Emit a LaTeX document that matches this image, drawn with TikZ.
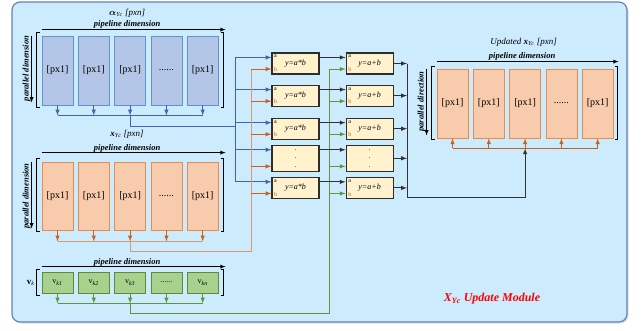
\documentclass[tikz,border=0pt]{standalone}
\usepackage{amsmath}
\usepackage{fontspec}
\setmainfont{Liberation Serif}
\usetikzlibrary{calc,positioning,shadows}

\definecolor{cBg}{RGB}{204,236,254}
\definecolor{cFrame}{RGB}{100,130,190}
\definecolor{cAlphaFill}{RGB}{180,198,231}
\definecolor{cAlphaLine}{RGB}{100,145,210}
\definecolor{cAlphaWire}{RGB}{60,100,185}
\definecolor{cXFill}{RGB}{248,203,173}
\definecolor{cXLine}{RGB}{230,140,80}
\definecolor{cXWire}{RGB}{215,155,115}
\definecolor{cXTip}{RGB}{205,95,30}
\definecolor{cVFill}{RGB}{169,209,142}
\definecolor{cVLine}{RGB}{90,140,60}
\definecolor{cVWire}{RGB}{95,150,60}
\definecolor{cBoxFill}{RGB}{255,242,204}
\definecolor{cBoxLine}{RGB}{45,45,45}
\definecolor{cDark}{RGB}{50,50,50}
\definecolor{cPortB}{RGB}{170,100,50}
\definecolor{cModule}{RGB}{255,0,0}

\begin{document}
\begin{tikzpicture}[>=latex, x=1pt, y=-1pt]

  \tikzstyle{frame} = [draw=cFrame, line width=1.2pt, fill=cBg, rounded corners=8pt, drop shadow={opacity=0.25, shadow xshift=1.5pt, shadow yshift=-1.5pt}]
  \tikzstyle{cell} = [draw, line width=0.8pt, minimum width=31pt, inner sep=0pt, font=\fontsize{10}{11}\selectfont]
  \tikzstyle{alphaCell} = [cell, draw=cAlphaLine, fill=cAlphaFill, minimum height=69pt]
  \tikzstyle{xCell} = [cell, draw=cXLine, fill=cXFill, minimum height=68pt]
  \tikzstyle{vCell} = [cell, draw=cVLine, fill=cVFill, minimum height=21pt, font=\fontsize{8}{9}\selectfont]
  \tikzstyle{opBox} = [draw=cBoxLine, line width=1.1pt, fill=cBoxFill, minimum width=47pt, minimum height=21pt, inner sep=0pt, font=\fontsize{8}{9}\selectfont\itshape]
  \tikzstyle{portLabel} = [inner sep=1pt, font=\fontsize{6}{7}\selectfont]
  \tikzstyle{portBox} = [opBox, label={[portLabel, anchor=north west, xshift=1.5pt, yshift=-1.5pt]north west:a}, label={[portLabel, anchor=south west, xshift=1.5pt, yshift=1.5pt, text=cPortB]south west:b}]
  \tikzstyle{dotsBox} = [opBox, minimum height=26pt, align=center, font=\fontsize{7}{8.5}\selectfont]
  \tikzstyle{title} = [inner sep=0pt, font=\fontsize{9}{10}\selectfont\itshape]
  \tikzstyle{dimLabel} = [inner sep=0pt, font=\fontsize{8.5}{9}\selectfont\bfseries\itshape]
  \tikzstyle{dimArrow} = [black, line width=0.8pt, ->]
  \tikzstyle{bracket} = [black, line width=1pt]
  \tikzstyle{alphaBus} = [cAlphaWire, line width=1pt]
  \tikzstyle{alphaArrow} = [alphaBus, ->]
  \tikzstyle{xBus} = [cXWire, line width=1pt]
  \tikzstyle{xArrow} = [cXTip, line width=1pt, ->]
  \tikzstyle{outBus} = [cXTip, line width=1pt]
  \tikzstyle{vBus} = [cVWire, line width=1pt]
  \tikzstyle{vArrow} = [vBus, ->]
  \tikzstyle{darkLine} = [cDark, line width=1pt]
  \tikzstyle{darkArrow} = [darkLine, ->]

  \useasboundingbox (0,0) rectangle (642,330);

  % module frame
  \path[frame] (12,2) rectangle (627,322);
  \node[inner sep=0pt, text=cModule, font=\fontsize{12}{14}\selectfont\bfseries\itshape] (moduleName) at (492,299) {X\textsubscript{Yc} Update Module};

  % alpha values
  \node[alphaCell] (alpha1) at (57.5,70.5) {[px1]};
  \node[alphaCell, right=4.5pt of alpha1] (alpha2) {[px1]};
  \node[alphaCell, right=4.5pt of alpha2] (alpha3) {[px1]};
  \node[alphaCell, right=4.5pt of alpha3] (alpha4) {......};
  \node[alphaCell, right=4.5pt of alpha4] (alpha5) {[px1]};
  \node[title] (alphaTitle) at ($(alpha3.north)+(-3,-22)$) {$\boldsymbol{\alpha}$\textsubscript{Yc} [pxn]};
  \node[dimLabel] (alphaPipe) at ($(alpha3.north)+(-3,-11)$) {pipeline dimension};
  \draw[dimArrow] ($(alpha1.north west)+(0,-6)$) -- ($(alpha5.north east)+(7,-6)$);
  \node[dimLabel, rotate=90] (alphaPar) at ($(alpha1.west)+(-15,-2)$) {parallel dimension};
  \draw[dimArrow] ($(alpha1.north west)+(-10,0)$) -- ($(alpha1.south west)+(-10,-3)$);
  \draw[bracket] ($(alpha1.north west)+(-2,-3)$) -- ++(-3,0) |- ($(alpha1.south west)+(-2,2)$);
  \draw[bracket] ($(alpha5.north east)+(2,-3)$) -- ++(3,0) |- ($(alpha5.south east)+(2,2)$);

  % x values
  \node[xCell] (x1) at (57.5,196) {[px1]};
  \node[xCell, right=4.5pt of x1] (x2) {[px1]};
  \node[xCell, right=4.5pt of x2] (x3) {[px1]};
  \node[xCell, right=4.5pt of x3] (x4) {......};
  \node[xCell, right=4.5pt of x4] (x5) {[px1]};
  \node[title] (xTitle) at ($(x3.north)+(-3,-27)$) {\textbf{x}\textsubscript{Yc} [pxn]};
  \node[dimLabel] (xPipe) at ($(x3.north)+(-3,-13)$) {pipeline dimension};
  \draw[dimArrow] ($(x1.north west)+(0,-9)$) -- ($(x5.north east)+(7,-9)$);
  \node[dimLabel, rotate=90] (xPar) at ($(x1.west)+(-15,0)$) {parallel dimension};
  \draw[dimArrow] ($(x1.north west)+(-10,0)$) -- ($(x1.south west)+(-10,-2)$);
  \draw[bracket] ($(x1.north west)+(-2,-3)$) -- ++(-3,0) |- ($(x1.south west)+(-2,1)$);
  \draw[bracket] ($(x5.north east)+(2,-3)$) -- ++(3,0) |- ($(x5.south east)+(2,1)$);

  % v values
  \node[vCell] (v1) at (57.5,282.5) {v\textsubscript{\itshape k1}};
  \node[vCell, right=4.5pt of v1] (v2) {v\textsubscript{\itshape k2}};
  \node[vCell, right=4.5pt of v2] (v3) {v\textsubscript{\itshape k3}};
  \node[vCell, right=4.5pt of v3] (v4) {......};
  \node[vCell, right=4.5pt of v4] (v5) {v\textsubscript{\itshape kn}};
  \node[dimLabel] (vPipe) at ($(v3.north)+(-3,-9)$) {pipeline dimension};
  \draw[dimArrow] ($(v1.north west)+(0,-5)$) -- ($(v5.north east)+(7,-5)$);
  \node[inner sep=0pt, font=\fontsize{9}{10}\selectfont] (vName) at ($(v1.west)+(-11,0)$) {\textbf{v}\textsubscript{\itshape k}};
  \draw[bracket] ($(v1.north west)+(-2,-2)$) -- ++(-3,0) |- ($(v1.south west)+(-2,2)$);
  \draw[bracket] ($(v5.north east)+(2,-2)$) -- ++(3,0) |- ($(v5.south east)+(2,2)$);

  % updated x values
  \node[xCell, minimum height=69pt] (out1) at (452.5,103.5) {[px1]};
  \node[xCell, minimum height=69pt, right=4.5pt of out1] (out2) {[px1]};
  \node[xCell, minimum height=69pt, right=4.5pt of out2] (out3) {[px1]};
  \node[xCell, minimum height=69pt, right=4.5pt of out3] (out4) {......};
  \node[xCell, minimum height=69pt, right=4.5pt of out4] (out5) {[px1]};
  \node[title] (outTitle) at ($(out3.north)+(-1.5,-26)$) {Updated \textbf{x}\textsubscript{Yc} [pxn]};
  \node[dimLabel] (outPipe) at ($(out3.north)+(-3,-12)$) {pipeline dimension};
  \draw[dimArrow] ($(out1.north west)+(0,-7)$) -- ($(out5.north east)+(5,-7)$);
  \node[dimLabel, rotate=90] (outPar) at ($(out1.west)+(-15,-2)$) {parallel direction};
  \draw[dimArrow] ($(out1.north west)+(-10,0)$) -- ($(out1.south west)+(-10,-3)$);
  \draw[bracket] ($(out1.north west)+(-2,-2)$) -- ++(-3,0) |- ($(out1.south west)+(-2,1)$);
  \draw[bracket] ($(out5.north east)+(1,-2)$) -- ++(3,0) |- ($(out5.south east)+(1,1)$);

  % multipliers and adders
  \node[portBox] (mul1) at (295.5,63.5) {y=a*b};
  \node[portBox, below=10pt of mul1] (mul2) {y=a*b};
  \node[portBox, below=11pt of mul2] (mul3) {y=a*b};
  \node[dotsBox, below=5pt of mul3] (mul4) {.\\.\\.};
  \node[portBox, below=5pt of mul4] (mul5) {y=a*b};
  \node[portBox, right=26pt of mul1] (add1) {y=a+b};
  \node[portBox, right=26pt of mul2] (add2) {y=a+b};
  \node[portBox, right=26pt of mul3] (add3) {y=a+b};
  \node[dotsBox, right=26pt of mul4] (add4) {.\\.\\.};
  \node[portBox, right=26pt of mul5] (add5) {y=a+b};

  \coordinate (mul1a) at ($(mul1.north west)+(0,5)$);
  \coordinate (mul2a) at ($(mul2.north west)+(0,5)$);
  \coordinate (mul3a) at ($(mul3.north west)+(0,5)$);
  \coordinate (mul4a) at ($(mul4.north west)+(0,5)$);
  \coordinate (mul5a) at ($(mul5.north west)+(0,5)$);
  \coordinate (mul1b) at ($(mul1.south west)+(0,-5.5)$);
  \coordinate (mul2b) at ($(mul2.south west)+(0,-5.5)$);
  \coordinate (mul3b) at ($(mul3.south west)+(0,-5.5)$);
  \coordinate (mul4b) at ($(mul4.south west)+(0,-5.5)$);
  \coordinate (mul5b) at ($(mul5.south west)+(0,-5.5)$);
  \coordinate (add1a) at ($(add1.north west)+(0,5)$);
  \coordinate (add2a) at ($(add2.north west)+(0,5)$);
  \coordinate (add3a) at ($(add3.north west)+(0,5)$);
  \coordinate (add4a) at ($(add4.north west)+(0,5)$);
  \coordinate (add5a) at ($(add5.north west)+(0,5)$);
  \coordinate (add1b) at ($(add1.south west)+(0,-5.5)$);
  \coordinate (add2b) at ($(add2.south west)+(0,-5.5)$);
  \coordinate (add3b) at ($(add3.south west)+(0,-5.5)$);
  \coordinate (add4b) at ($(add4.south west)+(0,-5.5)$);
  \coordinate (add5b) at ($(add5.south west)+(0,-5.5)$);

  % alpha cells are gathered and sent to input a of every multiplier
  \coordinate (alphaBusL) at ($(alpha1.south)+(0,10)$);
  \coordinate (alphaBusR) at ($(alpha5.south)+(0,10)$);
  \draw[alphaArrow] (alpha1.south) -- (alpha1.south |- alphaBusL);
  \draw[alphaArrow] (alpha2.south) -- (alpha2.south |- alphaBusL);
  \draw[alphaArrow] (alpha3.south) -- (alpha3.south |- alphaBusL);
  \draw[alphaArrow] (alpha4.south) -- (alpha4.south |- alphaBusL);
  \draw[alphaArrow] (alpha5.south) -- (alpha5.south |- alphaBusL);
  \draw[alphaBus] (alphaBusL) -- (alphaBusR);
  \coordinate (alphaTurn) at (235,126);
  \draw[alphaBus] (alpha3.south |- alphaBusL) |- (alphaTurn);
  \draw[alphaBus] (mul1a -| alphaTurn) -- (mul5a -| alphaTurn);
  \draw[alphaArrow] (mul1a -| alphaTurn) -- (mul1a);
  \draw[alphaArrow] (mul2a -| alphaTurn) -- (mul2a);
  \draw[alphaArrow] (mul3a -| alphaTurn) -- (mul3a);
  \draw[alphaArrow] (mul4a -| alphaTurn) -- (mul4a);
  \draw[alphaArrow] (mul5a -| alphaTurn) -- (mul5a);

  % x cells are gathered and sent to input b of every multiplier
  \coordinate (xBusL) at ($(x1.south)+(0,11)$);
  \coordinate (xBusR) at ($(x5.south)+(0,11)$);
  \draw[xArrow] (x1.south) -- (x1.south |- xBusL);
  \draw[xArrow] (x2.south) -- (x2.south |- xBusL);
  \draw[xArrow] (x3.south) -- (x3.south |- xBusL);
  \draw[xArrow] (x4.south) -- (x4.south |- xBusL);
  \draw[xArrow] (x5.south) -- (x5.south |- xBusL);
  \draw[xBus] (xBusL) -- (xBusR);
  \coordinate (xTurn) at (251,251);
  \draw[xBus] (x3.south |- xBusL) |- (xTurn) -- (mul1b -| xTurn);
  \draw[xArrow] (mul1b -| xTurn) -- (mul1b);
  \draw[xArrow] (mul2b -| xTurn) -- (mul2b);
  \draw[xArrow] (mul3b -| xTurn) -- (mul3b);
  \draw[xArrow] (mul4b -| xTurn) -- (mul4b);
  \draw[xArrow] (mul5b -| xTurn) -- (mul5b);

  % v cells are gathered and sent to input b of every adder
  \coordinate (vBusL) at ($(v1.south)+(0,10)$);
  \coordinate (vBusR) at ($(v5.south)+(0,10)$);
  \draw[vArrow] (v1.south) -- (v1.south |- vBusL);
  \draw[vArrow] (v2.south) -- (v2.south |- vBusL);
  \draw[vArrow] (v3.south) -- (v3.south |- vBusL);
  \draw[vArrow] (v4.south) -- (v4.south |- vBusL);
  \draw[vArrow] (v5.south) -- (v5.south |- vBusL);
  \draw[vBus] (vBusL) -- (vBusR);
  \coordinate (vTurn) at (329,313);
  \draw[vBus] (v3.south |- vBusL) |- (vTurn) -- (add1b -| vTurn);
  \draw[vArrow] (add1b -| vTurn) -- (add1b);
  \draw[vArrow] (add2b -| vTurn) -- (add2b);
  \draw[vArrow] (add3b -| vTurn) -- (add3b);
  \draw[vArrow] (add4b -| vTurn) -- (add4b);
  \draw[vArrow] (add5b -| vTurn) -- (add5b);

  % products go to input a of the adders
  \draw[darkArrow] (mul1a -| mul1.east) -- (add1a);
  \draw[darkArrow] (mul2a -| mul2.east) -- (add2a);
  \draw[darkArrow] (mul3a -| mul3.east) -- (add3a);
  \draw[darkArrow] (mul4a -| mul4.east) -- (add4a);
  \draw[darkArrow] (mul5a -| mul5.east) -- (add5a);

  % sums are collected and written back to the updated x cells
  \coordinate (sumTurn) at (407,197);
  \coordinate (outBusL) at ($(out1.south)+(0,10)$);
  \coordinate (outBusR) at ($(out5.south)+(0,10)$);
  \draw[darkArrow] (add1.east) -- (add1.east -| sumTurn);
  \draw[darkArrow] (add2.east) -- (add2.east -| sumTurn);
  \draw[darkArrow] (add3.east) -- (add3.east -| sumTurn);
  \draw[darkArrow] (add4.east) -- (add4.east -| sumTurn);
  \draw[darkArrow] (add5.east) -- (add5.east -| sumTurn);
  \draw[darkLine] (add1.east -| sumTurn) -- (sumTurn);
  \draw[darkArrow] (sumTurn) -| (out3.south |- outBusL);
  \draw[outBus] (outBusL) -- (outBusR);
  \draw[xArrow] (out1.south |- outBusL) -- (out1.south);
  \draw[xArrow] (out2.south |- outBusL) -- (out2.south);
  \draw[xArrow] (out3.south |- outBusL) -- (out3.south);
  \draw[xArrow] (out4.south |- outBusL) -- (out4.south);
  \draw[xArrow] (out5.south |- outBusL) -- (out5.south);

\end{tikzpicture}
\end{document}
